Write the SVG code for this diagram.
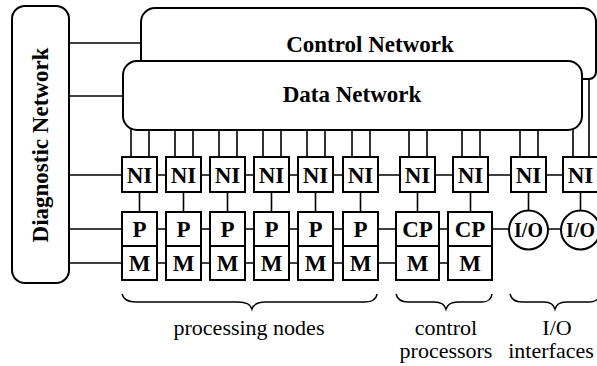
<svg xmlns="http://www.w3.org/2000/svg" width="597" height="366" viewBox="0 0 597 366">
<style>
.box{fill:#fff;stroke:#000;stroke-width:2}
.ln{stroke:#000;stroke-width:1.6;fill:none}
.br{stroke:#000;stroke-width:1.5;fill:none}
.b{font-family:"Liberation Serif","Times New Roman",serif;font-weight:bold;text-anchor:middle;fill:#000}
.c{font-family:"Liberation Serif","Times New Roman",serif;font-size:22px;text-anchor:middle;fill:#000}
.n{font-size:23px}
</style>
<rect width="597" height="366" fill="#fff"/>
<g id="connectors">
<path class="ln" d="M69,43H141M69,96H123M69,175H122M69,229H122M69,263H122"/>
<path class="ln" d="M157,175H166M201,175H210M245,175H254M289,175H298M333,175H343M378,175H400M435,175H453M488,175H511M546,175H563"/>
<path class="ln" d="M131,129V157M149,129V157M175,129V157M193,129V157M219,129V157M237,129V157M263,129V157M281,129V157M307,129V157M325,129V157M352,129V157M370,129V157M409,129V157M427,129V157M462,129V157M480,129V157M520,129V157M538,129V157M573,128V157M589,79V157"/>
<path class="ln" d="M139.5,192V212M183.5,192V212M227.5,192V212M271.5,192V212M315.5,192V212M360.5,192V212M417.5,192V212M470.5,192V212M528.5,192V211M580.5,192V211"/>
<path class="ln" d="M157,229H166M201,229H210M245,229H254M289,229H298M333,229H343M378,229H396M439,229H448M492,229H509M548,229H561"/>
<path class="ln" d="M157,263H166M201,263H210M245,263H254M289,263H298M333,263H343M378,263H396M439,263H448"/>
</g>
<g id="diagnostic-network">
<rect class="box" x="12" y="6" width="57" height="277" rx="13"/>
<text class="b" font-size="23" transform="translate(48,145) rotate(-90)">Diagnostic Network</text>
</g>
<g id="control-network">
<path class="box" d="M141,79V22A14,14 0 0 1 155,8H582A14,14 0 0 1 596,22V72A7,7 0 0 1 589,79Z"/>
<text class="b" font-size="23" x="370" y="52">Control Network</text>
</g>
<g id="data-network">
<rect class="box" x="123" y="61" width="459" height="69" rx="14"/>
<text class="b" font-size="23" x="352" y="102">Data Network</text>
</g>
<g id="ni-1"><rect class="box" x="122" y="157" width="35" height="35"/><text class="b n" x="139.5" y="182.5">NI</text></g>
<g id="ni-2"><rect class="box" x="166" y="157" width="35" height="35"/><text class="b n" x="183.5" y="182.5">NI</text></g>
<g id="ni-3"><rect class="box" x="210" y="157" width="35" height="35"/><text class="b n" x="227.5" y="182.5">NI</text></g>
<g id="ni-4"><rect class="box" x="254" y="157" width="35" height="35"/><text class="b n" x="271.5" y="182.5">NI</text></g>
<g id="ni-5"><rect class="box" x="298" y="157" width="35" height="35"/><text class="b n" x="315.5" y="182.5">NI</text></g>
<g id="ni-6"><rect class="box" x="343" y="157" width="35" height="35"/><text class="b n" x="360.5" y="182.5">NI</text></g>
<g id="ni-7"><rect class="box" x="400" y="157" width="35" height="35"/><text class="b n" x="417.5" y="182.5">NI</text></g>
<g id="ni-8"><rect class="box" x="453" y="157" width="35" height="35"/><text class="b n" x="470.5" y="182.5">NI</text></g>
<g id="ni-9"><rect class="box" x="511" y="157" width="35" height="35"/><text class="b n" x="528.5" y="182.5">NI</text></g>
<g id="ni-10"><rect class="box" x="563" y="157" width="35" height="35"/><text class="b n" x="580.5" y="182.5">NI</text></g>
<g id="pm-1"><rect class="box" x="122" y="212" width="35" height="34"/><rect class="box" x="122" y="246" width="35" height="34"/><text class="b n" x="139.5" y="237">P</text><text class="b n" x="139.5" y="271">M</text></g>
<g id="pm-2"><rect class="box" x="166" y="212" width="35" height="34"/><rect class="box" x="166" y="246" width="35" height="34"/><text class="b n" x="183.5" y="237">P</text><text class="b n" x="183.5" y="271">M</text></g>
<g id="pm-3"><rect class="box" x="210" y="212" width="35" height="34"/><rect class="box" x="210" y="246" width="35" height="34"/><text class="b n" x="227.5" y="237">P</text><text class="b n" x="227.5" y="271">M</text></g>
<g id="pm-4"><rect class="box" x="254" y="212" width="35" height="34"/><rect class="box" x="254" y="246" width="35" height="34"/><text class="b n" x="271.5" y="237">P</text><text class="b n" x="271.5" y="271">M</text></g>
<g id="pm-5"><rect class="box" x="298" y="212" width="35" height="34"/><rect class="box" x="298" y="246" width="35" height="34"/><text class="b n" x="315.5" y="237">P</text><text class="b n" x="315.5" y="271">M</text></g>
<g id="pm-6"><rect class="box" x="343" y="212" width="35" height="34"/><rect class="box" x="343" y="246" width="35" height="34"/><text class="b n" x="360.5" y="237">P</text><text class="b n" x="360.5" y="271">M</text></g>
<g id="cp-1"><rect class="box" x="396" y="212" width="43" height="34"/><rect class="box" x="396" y="246" width="43" height="34"/><text class="b n" x="417.5" y="237">CP</text><text class="b n" x="417.5" y="271">M</text></g>
<g id="cp-2"><rect class="box" x="448" y="212" width="44" height="34"/><rect class="box" x="448" y="246" width="44" height="34"/><text class="b n" x="470" y="237">CP</text><text class="b n" x="470" y="271">M</text></g>
<g id="io-1"><circle class="box" cx="528.5" cy="230" r="19.5"/><text class="b" font-size="20" x="528.5" y="237">I/O</text></g>
<g id="io-2"><circle class="box" cx="580.5" cy="230" r="19.5"/><text class="b" font-size="20" x="580.5" y="237">I/O</text></g>
<g id="processing-nodes">
<path class="br" d="M122,294Q124,302 136,302H238Q250,302 252,309Q254,302 266,302H364Q376,302 377,294"/>
<text class="c" x="249" y="335">processing nodes</text>
</g>
<g id="control-processors">
<path class="br" d="M396,294Q398,302 408,302H434Q444,302 446,309Q448,302 458,302H482Q491,302 492,294"/>
<text class="c" x="446" y="335">control</text>
<text class="c" x="446" y="358">processors</text>
</g>
<g id="io-interfaces">
<path class="br" d="M510,294Q512,302 522,302H544Q553,302 555,309Q557,302 566,302H590Q598,302 600,294"/>
<text class="c" x="557" y="335">I/O</text>
<text class="c" x="551" y="358">interfaces</text>
</g>
</svg>
